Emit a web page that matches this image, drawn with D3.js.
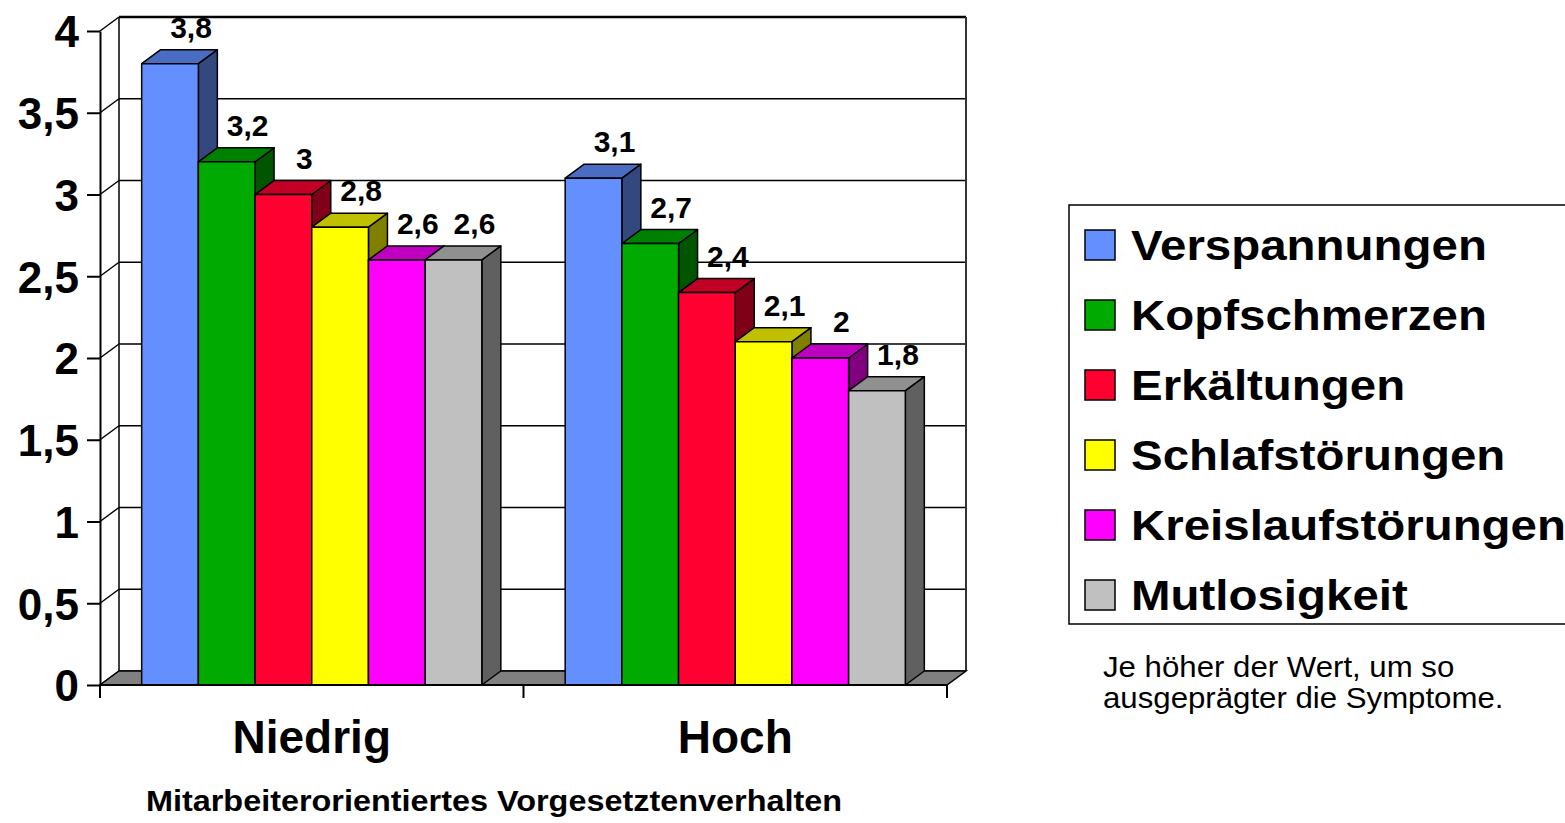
<!DOCTYPE html>
<html>
<head>
<meta charset="utf-8">
<script src="https://cdn.jsdelivr.net/npm/d3@7"></script>
<style>
  body { margin: 0; background: #fff; }
  svg { display: block; font-family: "Liberation Sans", Arial, sans-serif; }
</style>
</head>
<body>
<div id="chart"></div>
<script>
// data
var categories = ["Niedrig", "Hoch"];
var seriesNames = ["Verspannungen", "Kopfschmerzen", "Erkältungen", "Schlafstörungen", "Kreislaufstörungen", "Mutlosigkeit"];
var verspannungen = [3.8, 3.1];
var kopfschmerzen = [3.2, 2.7];
var erkaeltungen = [3.0, 2.4];
var schlafstoerungen = [2.8, 2.1];
var kreislaufstoerungen = [2.6, 2.0];
var mutlosigkeit = [2.6, 1.8];
var yTicks = [0, 0.5, 1, 1.5, 2, 2.5, 3, 3.5, 4];
var xTitle = "Mitarbeiterorientiertes Vorgesetztenverhalten";
var noteLines = ["Je höher der Wert, um so", "ausgeprägter die Symptome."];

var seriesValues = [verspannungen, kopfschmerzen, erkaeltungen, schlafstoerungen, kreislaufstoerungen, mutlosigkeit];

// front / top / side shades, like the old 3D office charts
var fronts = ["#6490ff", "#00aa00", "#ff0030", "#ffff00", "#ff00ff", "#c0c0c0"];
var tops   = ["#4a6cc2", "#008000", "#c00024", "#c0c000", "#c000c0", "#909090"];
var sides  = ["#32487f", "#005500", "#800018", "#808000", "#800080", "#606060"];

var W = 1565, H = 823;
var dx = 19, dy = -14;   // depth offset of the 3D box

var svg = d3.select("#chart").append("svg")
    .attr("width", W)
    .attr("height", H);

var y = d3.scaleLinear().domain([0, 4]).range([685, 31]);
var x = d3.scaleBand().domain(categories).range([100, 947]).paddingInner(0).paddingOuter(0);
var xs = d3.scaleBand().domain(seriesNames).range([0, x.bandwidth()]).paddingInner(0).paddingOuter(0.735);

var fmt = function(v) { return String(v).replace(".", ","); };
var x0 = x.range()[0], x1 = x.range()[1];

// back wall
svg.append("rect")
    .attr("x", x0 + dx).attr("y", y(4) + dy)
    .attr("width", x1 - x0).attr("height", y(0) - y(4))
    .attr("fill", "#fff");

// gridlines on back wall and diagonals on side wall
var grid = svg.append("g").attr("stroke", "#000").attr("stroke-width", 1.5);
grid.selectAll(".gl")
    .data(yTicks)
    .enter().append("line")
    .attr("x1", x0 + dx).attr("x2", x1 + dx)
    .attr("y1", function(d) { return y(d) + dy; })
    .attr("y2", function(d) { return y(d) + dy; })
    .attr("stroke-width", function(d) { return d === 4 ? 2.5 : 1.5; });
grid.selectAll(".dg")
    .data(yTicks)
    .enter().append("line")
    .attr("x1", x0).attr("x2", x0 + dx)
    .attr("y1", function(d) { return y(d); })
    .attr("y2", function(d) { return y(d) + dy; });
grid.append("line")
    .attr("x1", x0 + dx).attr("x2", x0 + dx)
    .attr("y1", y(4) + dy).attr("y2", y(0) + dy);
grid.append("line")
    .attr("x1", x1 + dx).attr("x2", x1 + dx)
    .attr("y1", y(4) + dy).attr("y2", y(0) + dy)
    .attr("stroke", "#333").attr("stroke-width", 2);

// floor
svg.append("polygon")
    .attr("points", [[x0, y(0)], [x1, y(0)], [x1 + dx, y(0) + dy], [x0 + dx, y(0) + dy]].join(" "))
    .attr("fill", "#808080")
    .attr("stroke", "#000")
    .attr("stroke-width", 1.5);

// bars
var bars = [];
categories.forEach(function(c, ci) {
    seriesNames.forEach(function(s, si) {
        bars.push({ cat: c, series: s, si: si, value: seriesValues[si][ci] });
    });
});

var barG = svg.selectAll(".bar")
    .data(bars)
    .enter().append("g")
    .attr("class", "bar")
    .attr("stroke", "#000")
    .attr("stroke-width", 1.5)
    .attr("stroke-linejoin", "round");

barG.append("polygon")
    .attr("points", function(d) {
        var bx = x(d.cat) + xs(d.series) + xs.bandwidth(), t = y(d.value), b = y(0);
        return [[bx, t], [bx + dx, t + dy], [bx + dx, b + dy], [bx, b]].join(" ");
    })
    .attr("fill", function(d) { return sides[d.si]; });

barG.append("polygon")
    .attr("points", function(d) {
        var bx = x(d.cat) + xs(d.series), w = xs.bandwidth(), t = y(d.value);
        return [[bx, t], [bx + dx, t + dy], [bx + w + dx, t + dy], [bx + w, t]].join(" ");
    })
    .attr("fill", function(d) { return tops[d.si]; });

barG.append("rect")
    .attr("x", function(d) { return x(d.cat) + xs(d.series); })
    .attr("y", function(d) { return y(d.value); })
    .attr("width", xs.bandwidth())
    .attr("height", function(d) { return y(0) - y(d.value); })
    .attr("fill", function(d) { return fronts[d.si]; });

// value labels
svg.selectAll(".vlabel")
    .data(bars)
    .enter().append("text")
    .attr("class", "vlabel")
    .attr("x", function(d) { return x(d.cat) + xs(d.series) + xs.bandwidth() / 2 + 21; })
    .attr("y", function(d) { return y(d.value) + dy - 12; })
    .attr("text-anchor", "middle")
    .style("font-size", "30px")
    .style("font-weight", "bold")
    .text(function(d) { return fmt(d.value); });

// front x axis line
svg.append("line")
    .attr("x1", x0).attr("x2", x1)
    .attr("y1", y(0)).attr("y2", y(0))
    .attr("stroke", "#000").attr("stroke-width", 2);

// y axis
var yAxis = svg.append("g")
    .attr("transform", "translate(" + x0 + ",0)")
    .call(d3.axisLeft(y).tickValues(yTicks).tickSize(13).tickSizeOuter(0).tickPadding(8).tickFormat(fmt));
yAxis.select(".domain").attr("stroke", "#000").attr("stroke-width", 2);
yAxis.selectAll(".tick line").attr("stroke", "#000").attr("stroke-width", 2);
yAxis.selectAll("text")
    .attr("fill", "#000")
    .style("font-size", "44px")
    .style("font-weight", "bold")
    .style("font-family", "'Liberation Sans', Arial, sans-serif")
    .attr("dy", "0.36em");

// x axis ticks at category boundaries
var bounds = categories.map(function(c) { return x(c); }).concat([x(categories[categories.length - 1]) + x.bandwidth()]);
svg.selectAll(".xt")
    .data(bounds)
    .enter().append("line")
    .attr("x1", function(d) { return d; }).attr("x2", function(d) { return d; })
    .attr("y1", y(0)).attr("y2", y(0) + 13)
    .attr("stroke", "#000").attr("stroke-width", 2);

svg.selectAll(".xlabel")
    .data(categories)
    .enter().append("text")
    .attr("x", function(d) { return x(d) + x.bandwidth() / 2; })
    .attr("y", 753)
    .attr("text-anchor", "middle")
    .style("font-size", "46px")
    .style("font-weight", "bold")
    .text(function(d) { return d; });

svg.append("text")
    .attr("transform", "translate(494,811) scale(1.08,1)")
    .attr("text-anchor", "middle")
    .style("font-size", "30px")
    .style("font-weight", "bold")
    .text(xTitle);

// legend
var legend = svg.append("g").attr("transform", "translate(1069,205)");
legend.append("rect")
    .attr("x", 0).attr("y", 0)
    .attr("width", 520).attr("height", 419)
    .attr("fill", "#fff")
    .attr("stroke", "#000")
    .attr("stroke-width", 1.5);

var items = legend.selectAll(".li")
    .data(seriesNames)
    .enter().append("g")
    .attr("transform", function(d, i) { return "translate(0," + (40 + i * 70) + ")"; });

items.append("rect")
    .attr("x", 16).attr("y", -15)
    .attr("width", 30).attr("height", 30)
    .attr("fill", function(d, i) { return fronts[i]; })
    .attr("stroke", "#000")
    .attr("stroke-width", 1.5);

items.append("text")
    .attr("transform", "translate(62,15) scale(1.13,1)")
    .style("font-size", "42px")
    .style("font-weight", "bold")
    .text(function(d) { return d; });

// note below legend
svg.append("text")
    .attr("transform", "translate(1103,677) scale(1.04,1)")
    .style("font-size", "30px")
    .selectAll("tspan")
    .data(noteLines)
    .enter().append("tspan")
    .attr("x", 0)
    .attr("dy", function(d, i) { return i === 0 ? 0 : 31; })
    .text(function(d) { return d; });
</script>
</body>
</html>
